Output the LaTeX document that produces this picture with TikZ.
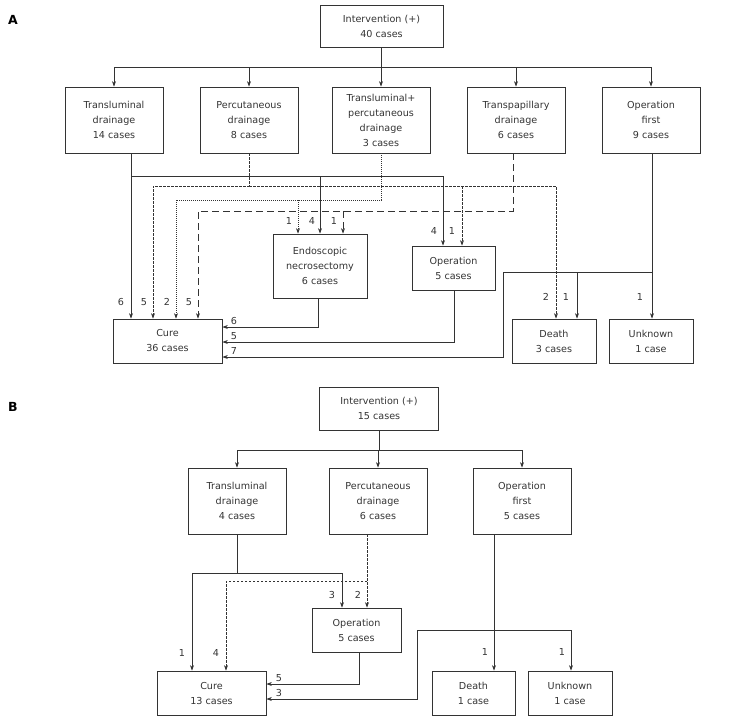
\documentclass[tikz,border=0pt]{standalone}
\usepackage{fontspec}
\setmainfont{DejaVu Sans}
\usetikzlibrary{arrows.meta}
\definecolor{ink}{HTML}{333333}
\tikzset{
 box/.style={draw=ink, line width=0.75pt, text=ink, align=center, inner sep=0pt, font=\fontsize{9.6}{15}\selectfont},
 conn/.style={draw=ink, line width=0.75pt},
 arr/.style={conn, -{Stealth[length=5.5pt,width=4pt]}},
 pcl/.style={dash pattern=on 2.5pt off 1.5pt},
 tpl/.style={dash pattern=on 1pt off 1pt},
 papl/.style={dash pattern=on 7pt off 4pt},
 lab/.style={text=ink, font=\fontsize{9.6}{11}\selectfont, inner sep=0pt},
 panel/.style={text=black, font=\bfseries\fontsize{12.5}{14}\selectfont, inner sep=0pt}
}
\begin{document}
\begin{tikzpicture}[x=1pt,y=-1pt]
\useasboundingbox (0,0) rectangle (739,720);
% ---------------- Panel A ----------------
\node[panel] (pA) at (13,20) {A};
\node[box, minimum width=123pt, minimum height=42pt] (intA) at (381.5,26) {Intervention (+)\\40 cases};
\node[box, minimum width=98pt, minimum height=66pt] (tlA) at (114,120) {Transluminal\\drainage\\14 cases};
\node[box, minimum width=98pt, minimum height=66pt] (pcA) at (249,120) {Percutaneous\\drainage\\8 cases};
\node[box, minimum width=98pt, minimum height=66pt] (tpA) at (381,120) {Transluminal+\\percutaneous\\drainage\\3 cases};
\node[box, minimum width=98pt, minimum height=66pt] (papA) at (516,120) {Transpapillary\\drainage\\6 cases};
\node[box, minimum width=98pt, minimum height=66pt] (ofA) at (651,120) {Operation\\first\\9 cases};
\node[box, minimum width=94pt, minimum height=64pt] (endo) at (320,266) {Endoscopic\\necrosectomy\\6 cases};
\node[box, minimum width=83pt, minimum height=44pt] (opA) at (453.5,268) {Operation\\5 cases};
\node[box, minimum width=109pt, minimum height=44pt] (cureA) at (167.5,341) {Cure\\36 cases};
\node[box, minimum width=84pt, minimum height=44pt] (deathA) at (554,341) {Death\\3 cases};
\node[box, minimum width=84pt, minimum height=44pt] (unkA) at (651,341) {Unknown\\1 case};

\coordinate (jA) at (381.5,67);
\coordinate (xa1) at (131,0); \coordinate (xa2) at (153,0);
\coordinate (xa3) at (176,0); \coordinate (xa4) at (198,0);
\coordinate (xe1) at (298,0); \coordinate (xe2) at (320,0); \coordinate (xe3) at (343,0);
\coordinate (xo1) at (443,0); \coordinate (xo2) at (462,0);
\coordinate (xd1) at (556,0); \coordinate (xd2) at (577,0);
\coordinate (xu) at (652,0); \coordinate (xof) at (503,0);
\coordinate (xpap) at (513,0); \coordinate (xen) at (318,0); \coordinate (xop) at (454,0);
\coordinate (ya1) at (0,176); \coordinate (ya2) at (0,186);
\coordinate (ya3) at (0,200); \coordinate (ya4) at (0,211);
\coordinate (ya5) at (0,272);
\coordinate (yc1) at (0,327); \coordinate (yc2) at (0,342); \coordinate (yc3) at (0,357);

\draw[conn] (intA.south) -- (jA);
\draw[conn] (tlA.north |- jA) -- (ofA.north |- jA);
\foreach \n in {tlA,pcA,tpA,papA,ofA} \draw[arr] (\n.north |- jA) -- (\n.north);

% transluminal (solid)
\draw[arr] (tlA.south -| xa1) -- (cureA.north -| xa1);
\draw[arr] (xa1 |- ya1) -| (opA.north -| xo1);
\draw[arr] (xe2 |- ya1) -- (endo.north -| xe2);
% percutaneous (short dashes)
\draw[arr,pcl] (pcA.south) |- (xa2 |- ya2) -- (cureA.north -| xa2);
\draw[arr,pcl] (pcA.south |- ya2) -| (deathA.north -| xd1);
\draw[arr,pcl] (xo2 |- ya2) -- (opA.north -| xo2);
% transluminal + percutaneous (dotted)
\draw[arr,tpl] (tpA.south) |- (xa3 |- ya3) -- (cureA.north -| xa3);
\draw[arr,tpl] (xe1 |- ya3) -- (endo.north -| xe1);
% transpapillary (long dashes)
\draw[arr,papl] (papA.south -| xpap) |- (xa4 |- ya4) -- (cureA.north -| xa4);
\draw[arr,papl] (xe3 |- ya4) -- (endo.north -| xe3);
% operation first
\draw[arr] (ofA.south -| xu) -- (unkA.north -| xu);
\draw[arr] (xu |- ya5) -- (xof |- ya5) -- (xof |- yc3) -- (cureA.east |- yc3);
\draw[arr] (xd2 |- ya5) -- (deathA.north -| xd2);
% endoscopic and operation to cure
\draw[arr] (endo.south -| xen) |- (cureA.east |- yc1);
\draw[arr] (opA.south -| xop) |- (cureA.east |- yc2);

\node[lab] (la1) at (121,302) {6};
\node[lab] (la2) at (144,302) {5};
\node[lab] (la3) at (167,302) {2};
\node[lab] (la4) at (189,302) {5};
\node[lab] (la5) at (289,221) {1};
\node[lab] (la6) at (312,221) {4};
\node[lab] (la7) at (334,221) {1};
\node[lab] (la8) at (434,231) {4};
\node[lab] (la9) at (452,231) {1};
\node[lab] (la10) at (546,297) {2};
\node[lab] (la11) at (566,297) {1};
\node[lab] (la12) at (640,297) {1};
\node[lab] (la13) at (234,321) {6};
\node[lab] (la14) at (234,336) {5};
\node[lab] (la15) at (234,351) {7};

% ---------------- Panel B ----------------
\node[panel] (pB) at (13,407) {B};
\node[box, minimum width=119pt, minimum height=43pt] (intB) at (379,408.5) {Intervention (+)\\15 cases};
\node[box, minimum width=98pt, minimum height=66pt] (tlB) at (237,501) {Transluminal\\drainage\\4 cases};
\node[box, minimum width=98pt, minimum height=66pt] (pcB) at (378,501) {Percutaneous\\drainage\\6 cases};
\node[box, minimum width=98pt, minimum height=66pt] (ofB) at (522,501) {Operation\\first\\5 cases};
\node[box, minimum width=89pt, minimum height=44pt] (opB) at (356.5,630) {Operation\\5 cases};
\node[box, minimum width=109pt, minimum height=44pt] (cureB) at (211.5,693) {Cure\\13 cases};
\node[box, minimum width=83pt, minimum height=44pt] (deathB) at (473.5,693) {Death\\1 case};
\node[box, minimum width=84pt, minimum height=44pt] (unkB) at (570,693) {Unknown\\1 case};

\coordinate (jB) at (379,450);
\coordinate (xb1) at (192,0); \coordinate (xb2) at (226,0);
\coordinate (xb3) at (342,0); \coordinate (xb4) at (367,0);
\coordinate (xb5) at (494,0); \coordinate (xb6) at (417,0);
\coordinate (xb7) at (571,0); \coordinate (xbt) at (237,0); \coordinate (xbo) at (359,0);
\coordinate (yb1) at (0,573); \coordinate (yb2) at (0,581); \coordinate (yb3) at (0,630);
\coordinate (ycb1) at (0,684); \coordinate (ycb2) at (0,699);

\draw[conn] (intB.south) -- (jB);
\draw[conn] (tlB.north |- jB) -- (ofB.north |- jB);
\foreach \n in {tlB,pcB,ofB} \draw[arr] (\n.north |- jB) -- (\n.north);

\draw[conn] (tlB.south -| xbt) -- (xbt |- yb1);
\draw[arr] (xbt |- yb1) -| (cureB.north -| xb1);
\draw[arr] (xbt |- yb1) -| (opB.north -| xb3);
\draw[arr,pcl] (pcB.south -| xb4) -- (opB.north -| xb4);
\draw[arr,pcl] (xb4 |- yb2) -| (cureB.north -| xb2);
\draw[arr] (ofB.south -| xb5) -- (deathB.north -| xb5);
\draw[arr] (xb6 |- yb3) -| (unkB.north -| xb7);
\draw[arr] (xb6 |- yb3) |- (cureB.east |- ycb2);
\draw[arr] (opB.south -| xbo) |- (cureB.east |- ycb1);

\node[lab] (lb1) at (182,653) {1};
\node[lab] (lb2) at (216,653) {4};
\node[lab] (lb3) at (332,595) {3};
\node[lab] (lb4) at (358,595) {2};
\node[lab] (lb5) at (279,678) {5};
\node[lab] (lb6) at (279,693) {3};
\node[lab] (lb7) at (485,652) {1};
\node[lab] (lb8) at (562,652) {1};
\end{tikzpicture}
\end{document}
